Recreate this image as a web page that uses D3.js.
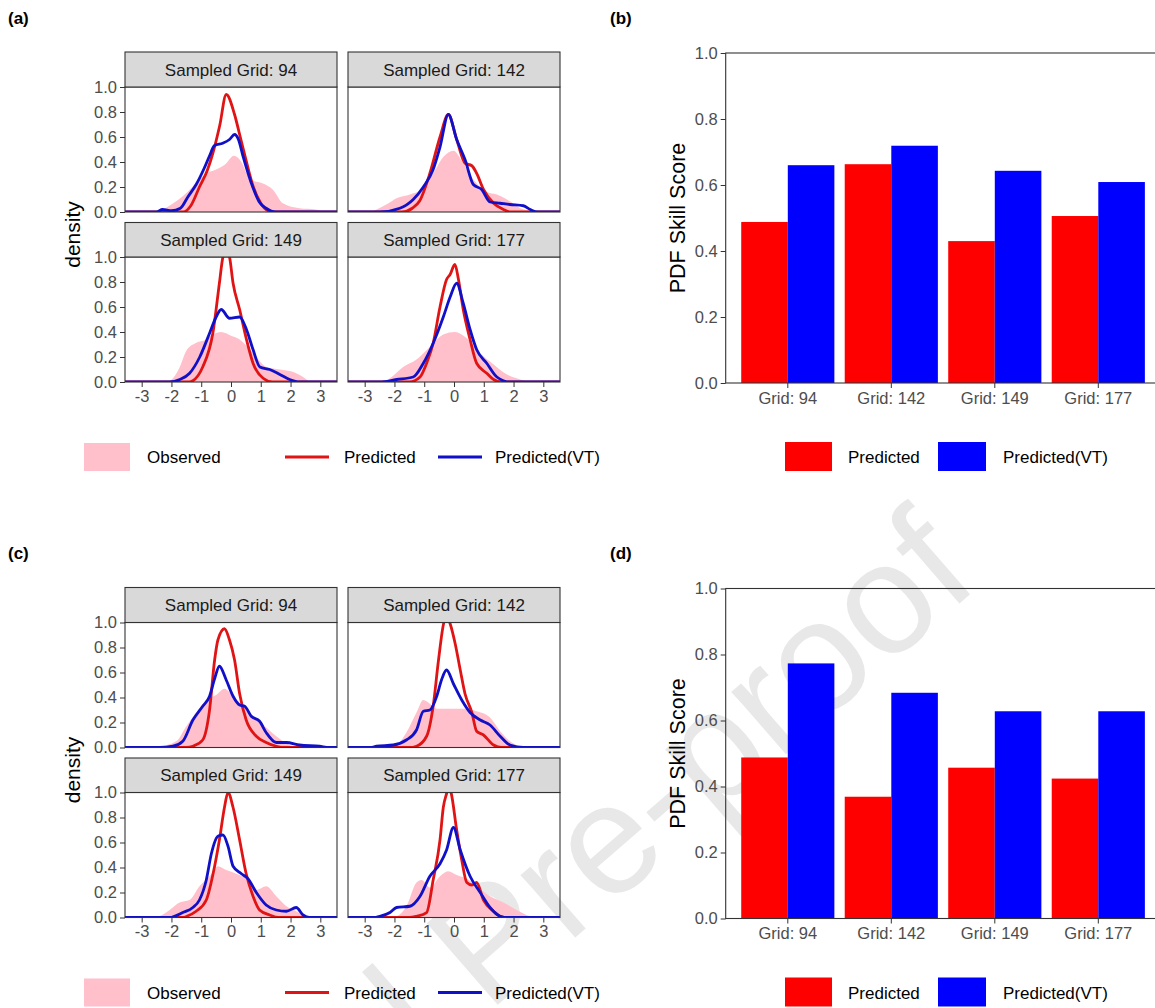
<!DOCTYPE html>
<html>
<head>
<meta charset="utf-8">
<script src="https://cdn.jsdelivr.net/npm/d3@7"></script>
<style>
body { margin: 0; background: #fff; }
svg { display: block; font-family: "Liberation Sans", Arial, sans-serif; }
</style>
</head>
<body>
<svg id="fig" width="1155" height="1008"></svg>
<script>
var grids = [94, 142, 149, 177];
var strip_labels = grids.map((g) => "Sampled Grid: " + g);
var bar_labels = grids.map((g) => "Grid: " + g);
var series = ["Predicted", "Predicted(VT)"];
var density_ticks_x = [-3, -2, -1, 0, 1, 2, 3];
var density_ticks_y = [0, 0.2, 0.4, 0.6, 0.8, 1];
var score_ticks = [0, 0.2, 0.4, 0.6, 0.8, 1];

// PDF skill score, panels (b) and (d)
var skill_pred_b = [0.488, 0.663, 0.430, 0.506];
var skill_vt_b = [0.660, 0.719, 0.643, 0.609];
var skill_pred_d = [0.488, 0.369, 0.457, 0.424];
var skill_vt_d = [0.773, 0.684, 0.628, 0.628];

// densities: [x, density], one list per sampled grid
var observed_a = [
  [[-3.6,0],[-2.6,0],[-2.3,0.02],[-1.94,0.07],[-1.6,0.13],[-1.38,0.18],[-1.1,0.25],[-0.82,0.31],[-0.5,0.34],[-0.2,0.38],[0.1,0.45],[0.35,0.4],[0.55,0.3],[0.75,0.25],[1.05,0.23],[1.4,0.18],[1.74,0.07],[2.3,0.03],[2.85,0.02],[3.2,0],[3.6,0]],
  [[-3.6,0],[-2.8,0],[-2.6,0.02],[-2.2,0.07],[-1.93,0.11],[-1.48,0.14],[-1.1,0.18],[-0.7,0.31],[-0.36,0.44],[-0.02,0.49],[0.31,0.39],[0.65,0.26],[1.1,0.16],[1.44,0.14],[1.78,0.1],[2.23,0.03],[2.6,0.01],[3.0,0],[3.6,0]],
  [[-3.6,0],[-2.2,0],[-1.95,0.03],[-1.72,0.12],[-1.5,0.25],[-1.2,0.31],[-0.83,0.34],[-0.61,0.38],[-0.33,0.4],[0,0.37],[0.29,0.34],[0.74,0.23],[1.19,0.12],[1.64,0.1],[2.09,0.08],[2.42,0.04],[2.7,0],[3.6,0]],
  [[-3.6,0],[-2.5,0],[-2.15,0.03],[-1.71,0.12],[-1.26,0.18],[-0.81,0.28],[-0.36,0.38],[0.03,0.4],[0.43,0.35],[0.88,0.23],[1.33,0.14],[1.78,0.06],[2.23,0.02],[2.6,0],[3.6,0]]
];
var predicted_a = [
  [[-3.6,0],[-1.6,0],[-1.35,0.05],[-1.06,0.2],[-0.8,0.33],[-0.61,0.47],[-0.38,0.69],[-0.16,0.94],[0.12,0.78],[0.28,0.63],[0.5,0.42],[0.75,0.2],[1.0,0.07],[1.25,0.01],[1.5,0],[3.6,0]],
  [[-3.6,0],[-1.75,0],[-1.4,0.03],[-1.15,0.09],[-0.81,0.31],[-0.47,0.6],[-0.19,0.78],[0.09,0.58],[0.37,0.39],[0.6,0.37],[0.76,0.31],[0.99,0.18],[1.33,0.07],[1.66,0.02],[1.9,0],[3.6,0]],
  [[-3.6,0],[-1.4,0],[-1.28,0.01],[-0.95,0.12],[-0.61,0.39],[-0.39,0.79],[-0.28,0.99],[-0.17,1.06],[-0.05,1.0],[0.07,0.79],[0.29,0.58],[0.52,0.34],[0.74,0.15],[1.08,0.03],[1.4,0],[3.6,0]],
  [[-3.6,0],[-1.5,0],[-1.14,0.04],[-0.92,0.15],[-0.7,0.31],[-0.47,0.6],[-0.25,0.82],[-0.13,0.86],[0.03,0.94],[0.15,0.82],[0.31,0.58],[0.54,0.34],[0.76,0.15],[1.1,0.07],[1.33,0.02],[1.6,0],[3.6,0]]
];
var predicted_vt_a = [
  [[-3.6,0],[-2.5,0],[-2.3,0.02],[-2.0,0.01],[-1.7,0.03],[-1.45,0.12],[-1.17,0.22],[-0.9,0.35],[-0.72,0.45],[-0.56,0.53],[-0.28,0.55],[-0.05,0.58],[0.12,0.62],[0.25,0.58],[0.4,0.45],[0.73,0.2],[0.95,0.08],[1.18,0.03],[1.5,0],[3.6,0]],
  [[-3.6,0],[-2.5,0],[-1.82,0.03],[-1.37,0.1],[-1.03,0.2],[-0.7,0.34],[-0.47,0.52],[-0.19,0.78],[0.09,0.58],[0.37,0.42],[0.65,0.22],[0.93,0.18],[1.21,0.08],[1.55,0.07],[1.88,0.06],[2.33,0.05],[2.56,0.02],[2.8,0],[3.6,0]],
  [[-3.6,0],[-2.06,0],[-1.72,0.02],[-1.39,0.07],[-1.05,0.2],[-0.72,0.39],[-0.5,0.52],[-0.33,0.58],[-0.05,0.51],[0.29,0.52],[0.52,0.42],[0.74,0.26],[0.97,0.12],[1.3,0.1],[1.64,0.06],[1.97,0.02],[2.3,0],[3.6,0]],
  [[-3.6,0],[-2.49,0],[-1.93,0.02],[-1.37,0.04],[-1.03,0.15],[-0.7,0.31],[-0.36,0.52],[-0.13,0.68],[0.09,0.79],[0.31,0.63],[0.54,0.42],[0.76,0.26],[1.1,0.15],[1.44,0.04],[1.88,0],[3.6,0]]
];
var observed_c = [
  [[-3.6,0],[-2.4,0.01],[-1.84,0.05],[-1.5,0.17],[-1.17,0.28],[-0.83,0.38],[-0.5,0.42],[-0.22,0.47],[0.07,0.41],[0.4,0.33],[0.74,0.25],[1.18,0.16],[1.52,0.09],[1.97,0.02],[2.4,0],[3.6,0]],
  [[-3.6,0],[-2.3,0],[-1.93,0.02],[-1.6,0.12],[-1.26,0.28],[-1.03,0.38],[-0.81,0.35],[-0.58,0.31],[-0.13,0.31],[0.31,0.31],[0.76,0.29],[1.21,0.24],[1.55,0.13],[1.88,0.05],[2.21,0.01],[2.5,0],[3.6,0]],
  [[-3.6,0],[-2.6,0],[-2.4,0.01],[-2.06,0.06],[-1.73,0.12],[-1.39,0.14],[-1.06,0.25],[-0.72,0.33],[-0.44,0.41],[-0.16,0.38],[0.18,0.35],[0.51,0.31],[0.85,0.22],[1.18,0.25],[1.52,0.17],[1.86,0.09],[2.19,0.05],[2.52,0.01],[2.8,0],[3.6,0]],
  [[-3.6,0],[-2.2,0],[-1.93,0.01],[-1.6,0.09],[-1.26,0.28],[-1.09,0.3],[-0.81,0.24],[-0.47,0.33],[-0.2,0.37],[0.09,0.34],[0.43,0.31],[0.76,0.25],[1.21,0.17],[1.66,0.12],[2.1,0.06],[2.56,0.01],[2.9,0],[3.6,0]]
];
var predicted_c = [
  [[-3.6,0],[-1.5,0],[-1.28,0.01],[-0.95,0.06],[-0.72,0.3],[-0.55,0.7],[-0.44,0.86],[-0.22,0.95],[-0.05,0.86],[0.12,0.7],[0.29,0.43],[0.51,0.22],[0.85,0.09],[1.18,0.04],[1.52,0.01],[1.8,0],[3.6,0]],
  [[-3.6,0],[-1.5,0],[-1.26,0.01],[-0.92,0.09],[-0.7,0.33],[-0.52,0.7],[-0.35,0.99],[-0.25,1.05],[-0.13,0.99],[0.04,0.83],[0.21,0.62],[0.37,0.43],[0.6,0.28],[0.76,0.13],[0.99,0.1],[1.33,0.02],[1.6,0],[3.6,0]],
  [[-3.6,0],[-1.6,0],[-1.48,0.01],[-1.17,0.05],[-0.83,0.14],[-0.55,0.41],[-0.39,0.62],[-0.22,0.88],[-0.1,1.0],[0.07,0.88],[0.29,0.62],[0.51,0.35],[0.74,0.17],[0.96,0.06],[1.3,0.02],[1.6,0],[3.6,0]],
  [[-3.6,0],[-1.5,0],[-1.26,0.01],[-0.92,0.04],[-0.7,0.3],[-0.47,0.62],[-0.36,0.88],[-0.25,0.99],[-0.18,1.04],[-0.1,1.0],[0.09,0.7],[0.26,0.46],[0.43,0.28],[0.6,0.26],[0.76,0.28],[0.99,0.14],[1.33,0.05],[1.55,0.01],[1.8,0],[3.6,0]]
];
var predicted_vt_c = [
  [[-3.6,0],[-2.4,0],[-1.95,0.01],[-1.62,0.05],[-1.28,0.22],[-0.95,0.33],[-0.72,0.41],[-0.55,0.55],[-0.39,0.65],[-0.16,0.54],[0.07,0.41],[0.29,0.34],[0.46,0.33],[0.68,0.25],[0.96,0.21],[1.18,0.12],[1.52,0.04],[1.86,0.04],[2.3,0.02],[2.97,0.01],[3.3,0],[3.6,0]],
  [[-3.6,0],[-2.8,0],[-2.6,0.01],[-2.04,0.02],[-1.6,0.06],[-1.26,0.14],[-1.03,0.29],[-0.81,0.3],[-0.58,0.41],[-0.42,0.54],[-0.25,0.62],[-0.02,0.51],[0.26,0.38],[0.54,0.28],[0.88,0.22],[1.21,0.18],[1.55,0.09],[1.88,0.02],[2.33,0],[3.6,0]],
  [[-3.6,0],[-2.06,0],[-1.62,0.04],[-1.28,0.08],[-1.06,0.14],[-0.83,0.3],[-0.66,0.51],[-0.44,0.65],[-0.27,0.66],[-0.1,0.57],[0.07,0.41],[0.35,0.35],[0.57,0.31],[0.85,0.2],[1.18,0.1],[1.52,0.06],[1.86,0.05],[2.19,0.08],[2.42,0.02],[2.64,0],[3.6,0]],
  [[-3.6,0],[-2.7,0],[-2.49,0.01],[-2.15,0.04],[-1.93,0.08],[-1.48,0.09],[-1.14,0.17],[-0.81,0.33],[-0.47,0.43],[-0.25,0.54],[-0.02,0.72],[0.21,0.54],[0.54,0.33],[0.88,0.2],[1.21,0.08],[1.55,0.01],[1.8,0],[3.6,0]]
];

var col_obs = "#ffc0cb", col_pred = "#e01414", col_vt = "#1010c8";
var bar_cols = ["#ff0000", "#0000ff"];
var facet_cols = [[125, 337], [348, 560]];
var facet_rows = [[52, 87, 212], [222.5, 257, 382]];   // strip top, panel top, panel bottom
var row_off = [0, 535.5];

var svg = d3.select("#fig");
svg.append("rect").attr("width", 1155).attr("height", 1008).attr("fill", "#fff");

// watermark, sits behind everything
svg.append("text")
    .attr("transform", "translate(982,584) rotate(-41)")
    .attr("text-anchor", "end")
    .attr("font-size", 157)
    .attr("fill", "#e8e8e8")
    .text("Journal Pre-proof");

function style_axis(ax) {
    ax.attr("font-family", null).attr("font-size", null);
    ax.select(".domain").remove();
    ax.selectAll("line").attr("stroke", "#333");
    ax.selectAll("text").attr("fill", "#4d4d4d").style("font-size", "16.5px");
}

function draw_density(off, obs, pred, vt, key) {
    grids.forEach((g, i) => {
        var c = facet_cols[i % 2], r = facet_rows[Math.floor(i / 2)];
        var x = d3.scaleLinear().domain([-3.56, 3.56]).range(c);
        var y = d3.scaleLinear().domain([0, 1]).range([r[2] + off, r[1] + off]);
        var f = svg.append("g");
        var cid = "clip_" + key + i;
        f.append("clipPath").attr("id", cid).append("rect")
            .attr("x", c[0]).attr("y", r[1] + off).attr("width", c[1] - c[0]).attr("height", r[2] - r[1]);
        var body = f.append("g").attr("clip-path", "url(#" + cid + ")");
        var area = d3.area().x((d) => x(d[0])).y0(y(0)).y1((d) => y(d[1])).curve(d3.curveMonotoneX);
        var line = d3.line().x((d) => x(d[0])).y((d) => y(d[1])).curve(d3.curveMonotoneX);
        body.append("path").datum(obs[i]).attr("d", area).attr("fill", col_obs);
        body.append("path").datum(pred[i]).attr("d", line)
            .attr("fill", "none").attr("stroke", col_pred).attr("stroke-width", 2.8).attr("stroke-linejoin", "round");
        body.append("path").datum(vt[i]).attr("d", line)
            .attr("fill", "none").attr("stroke", col_vt).attr("stroke-width", 2.8).attr("stroke-linejoin", "round");
        f.append("rect").attr("x", c[0]).attr("y", r[1] + off).attr("width", c[1] - c[0]).attr("height", r[2] - r[1])
            .attr("fill", "none").attr("stroke", "#333").attr("stroke-width", 1.1);
        // strip
        f.append("rect").attr("x", c[0]).attr("y", r[0] + off).attr("width", c[1] - c[0]).attr("height", r[1] - r[0])
            .attr("fill", "#d9d9d9").attr("stroke", "#333").attr("stroke-width", 1.1);
        f.append("text").attr("x", (c[0] + c[1]) / 2).attr("y", (r[0] + r[1]) / 2 + off).attr("dy", "0.36em")
            .attr("text-anchor", "middle").attr("font-size", 17).attr("fill", "#1a1a1a")
            .text(strip_labels[i]);
        if (i % 2 == 0) {
            var ya = f.append("g").attr("transform", "translate(" + c[0] + ",0)")
                .call(d3.axisLeft(y).tickValues(density_ticks_y).tickFormat(d3.format(".1f")).tickSize(5).tickPadding(3));
            style_axis(ya);
        }
        if (i >= 2) {
            var xa = f.append("g").attr("transform", "translate(0," + (r[2] + off) + ")")
                .call(d3.axisBottom(x).tickValues(density_ticks_x).tickFormat((d) => String(d)).tickSize(5).tickPadding(3));
            style_axis(xa);
        }
    });
    svg.append("text").attr("transform", "translate(73," + (234.5 + off) + ") rotate(-90)")
        .attr("text-anchor", "middle").attr("dy", "0.35em").attr("font-size", 21).text("density");

    // legend
    var lg = svg.append("g").attr("transform", "translate(0," + off + ")");
    lg.append("rect").attr("x", 84).attr("y", 443).attr("width", 46).attr("height", 28).attr("fill", col_obs);
    lg.append("text").attr("x", 147).attr("y", 457).attr("dy", "0.36em").attr("font-size", 17).text("Observed");
    lg.append("line").attr("x1", 285).attr("x2", 329).attr("y1", 457).attr("y2", 457).attr("stroke", col_pred).attr("stroke-width", 3);
    lg.append("text").attr("x", 344).attr("y", 457).attr("dy", "0.36em").attr("font-size", 17).text(series[0]);
    lg.append("line").attr("x1", 438).attr("x2", 482).attr("y1", 457).attr("y2", 457).attr("stroke", col_vt).attr("stroke-width", 3);
    lg.append("text").attr("x", 495).attr("y", 457).attr("dy", "0.36em").attr("font-size", 17).text(series[1]);
}

function draw_bars(off, pred, vt) {
    var x = d3.scaleBand().domain(bar_labels).range([725.7, 1160.4]).paddingInner(0.1).paddingOuter(0.15);
    var xs = d3.scaleBand().domain(series).range([0, x.bandwidth()]);
    var y = d3.scaleLinear().domain([0, 1]).range([383 + off, 53 + off]);
    var rows = bar_labels.map((b, i) => ({ cat: b, vals: [pred[i], vt[i]] }));
    var g = svg.append("g");
    var grp = g.selectAll("g.grp").data(rows).enter().append("g")
        .attr("class", "grp")
        .attr("transform", (d) => "translate(" + x(d.cat) + ",0)");
    grp.selectAll("rect").data((d) => d.vals.map((v, j) => ({ s: series[j], v: v, j: j }))).enter().append("rect")
        .attr("x", (d) => xs(d.s))
        .attr("width", xs.bandwidth())
        .attr("y", (d) => y(d.v))
        .attr("height", (d) => y(0) - y(d.v))
        .attr("fill", (d) => bar_cols[d.j]);
    g.append("rect").attr("x", 725.7).attr("y", 53 + off).attr("width", 1160.4 - 725.7).attr("height", 330)
        .attr("fill", "none").attr("stroke", "#333").attr("stroke-width", 1.1);
    var ya = g.append("g").attr("transform", "translate(725.7,0)")
        .call(d3.axisLeft(y).tickValues(score_ticks).tickFormat(d3.format(".1f")).tickSize(5).tickPadding(3));
    style_axis(ya);
    var xa = g.append("g").attr("transform", "translate(0," + (383 + off) + ")")
        .call(d3.axisBottom(x).tickSize(5).tickPadding(4));
    style_axis(xa);
    svg.append("text").attr("transform", "translate(677," + (218 + off) + ") rotate(-90)")
        .attr("text-anchor", "middle").attr("dy", "0.35em").attr("font-size", 21.5).text("PDF Skill Score");

    var lg = svg.append("g").attr("transform", "translate(0," + off + ")");
    lg.append("rect").attr("x", 785).attr("y", 442).attr("width", 47).attr("height", 29).attr("fill", bar_cols[0]);
    lg.append("text").attr("x", 848).attr("y", 457).attr("dy", "0.36em").attr("font-size", 17).text(series[0]);
    lg.append("rect").attr("x", 938).attr("y", 442).attr("width", 48).attr("height", 29).attr("fill", bar_cols[1]);
    lg.append("text").attr("x", 1003).attr("y", 457).attr("dy", "0.36em").attr("font-size", 17).text(series[1]);
}

draw_density(row_off[0], observed_a, predicted_a, predicted_vt_a, "a");
draw_density(row_off[1], observed_c, predicted_c, predicted_vt_c, "c");
draw_bars(row_off[0], skill_pred_b, skill_vt_b);
draw_bars(row_off[1], skill_pred_d, skill_vt_d);

var tags = [["(a)", 8, 18], ["(b)", 610, 18], ["(c)", 8, 553], ["(d)", 610, 553]];
svg.selectAll("text.tag").data(tags).enter().append("text")
    .attr("class", "tag")
    .attr("x", (d) => d[1]).attr("y", (d) => d[2]).attr("dy", "0.36em")
    .attr("font-size", 17).attr("font-weight", "bold")
    .text((d) => d[0]);
</script>
</body>
</html>
